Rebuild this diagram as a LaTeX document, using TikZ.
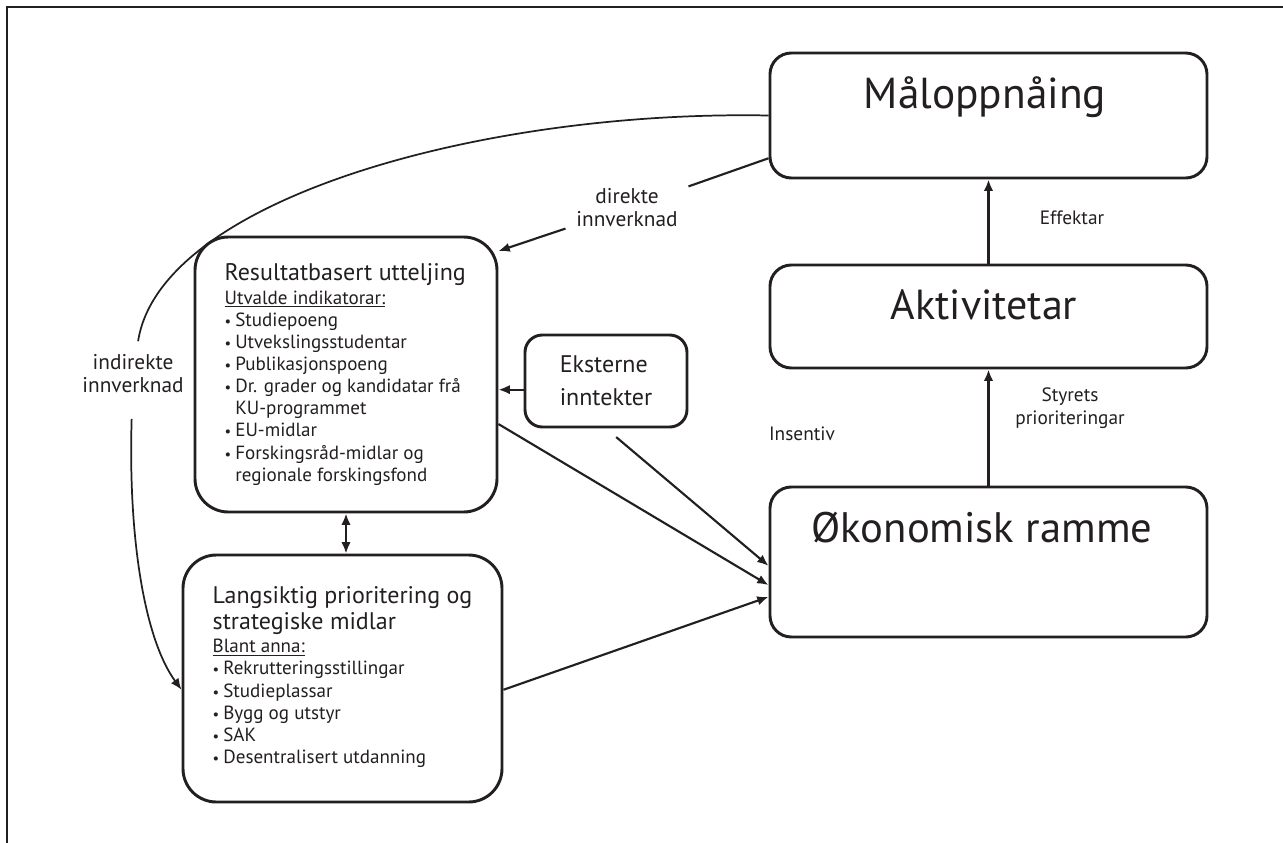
\documentclass[tikz,border=0pt]{standalone}
\usepackage{fontspec}
\setmainfont{PT Sans}
\usetikzlibrary{arrows.meta}
\definecolor{ink}{HTML}{231F20}
\newcommand{\bul}{\makebox[8pt][l]{\fontsize{11}{11}\selectfont\textbullet}}
\newcommand{\hng}{\hspace*{8pt}}
\newcommand{\ttl}[1]{{\fontsize{18}{19.5}\selectfont #1}}

\begin{document}
\begin{tikzpicture}
[x=0.75pt,y=-0.75pt,
 box/.style={draw=ink,line width=2.2pt,rounded corners=16pt,text=ink},
 listbox/.style={box,rounded corners=25pt,align=left,font=\fontsize{14.3}{16.6}\selectfont},
 big/.style={text=ink,anchor=base},
 lbl/.style={text=ink,align=center,font=\fontsize{14.5}{17.2}\selectfont},
 arr/.style={draw=ink,line width=1.6pt,-{Latex[length=8.5pt,width=7pt]}},
 curve/.style={draw=ink,line width=1.3pt}]
\useasboundingbox (0,0) rectangle (1283,843);
\draw[ink,line width=2.2pt] (1283,7) -- (7,7) -- (7,843);
% right column
\node[box,minimum width=327.75pt,minimum height=93.75pt] (mal) at (988.5,115.5) {};
\node[box,minimum width=327.75pt,minimum height=77.25pt] (akt) at (988.5,316.5) {};
\node[box,minimum width=327.75pt,minimum height=112.5pt] (ok) at (988.5,562) {};
\node[big,font=\fontsize{32.5}{38}\selectfont] (maltxt) at (985,108) {Måloppnåing};
\node[big,font=\fontsize{31.5}{36}\selectfont] (akttxt) at (984,319) {Aktivitetar};
\node[big,font=\fontsize{32}{36}\selectfont] (oktxt) at (982,542) {Økonomisk ramme};
% left column
\node[listbox,minimum width=226.5pt,minimum height=206.25pt] (res) at (346,374.5) {%
\ttl{Resultatbasert utteljing}\\[1pt]
\underline{Utvalde indikatorar:}\\
\bul Studiepoeng\\
\bul Utvekslingsstudentar\\
\bul Publikasjonspoeng\\
\bul Dr. grader og kandidatar frå\\
\hng KU-programmet\\
\bul EU-midlar\\
\bul Forskingsråd-midlar og\\
\hng regionale forskingsfond\hspace*{30pt}};
\node[listbox,minimum width=239.25pt,minimum height=185.25pt] (lang) at (342.5,678.5) {%
\ttl{Langsiktig prioritering og}\\[3pt]
\ttl{strategiske midlar}\\[1pt]
\underline{Blant anna:}\\
\bul Rekrutteringsstillingar\\
\bul Studieplassar\\
\bul Bygg og utstyr\\
\bul SAK\\
\bul Desentralisert utdanning\\[-11pt]};
\node[box,rounded corners=13pt,align=left,minimum width=121.5pt,minimum height=69pt,
 font=\fontsize{18}{24.75}\selectfont] (eks) at (606,381) {Eksterne\\inntekter};
% labels
\node[lbl] (eff) at (1072,218) {Effektar};
\node[lbl] (sty) at (1070,408) {Styrets\\prioriteringar};
\node[lbl] (ins) at (802,434) {Insentiv};
\node[lbl,font=\fontsize{16}{17.3}\selectfont,inner sep=8pt] (dir) at (627,208) {direkte\\innverknad};
\node[lbl,font=\fontsize{16}{17.3}\selectfont,inner xsep=4pt,inner ysep=10pt] (ind) at (133,374) {indirekte\\innverknad};
% connectors
\draw[arr] (akt) -- (mal);
\draw[arr] (ok) -- (akt);
\draw[arr] (eks.186) -- (eks.186 -| res.east);
\draw[arr] (res.-18) -- (ok.186);
\draw[arr,shorten <=10pt] (eks.south) -- (ok.181);
\draw[arr] (lang.-4) -- (ok.189);
\draw[arr,{Latex[length=8.5pt,width=7pt]}-{Latex[length=8.5pt,width=7pt]}] (res.south) -- (res.south |- lang.north);
\draw[arr] (mal.191) -- (dir) -- (res.39);
\draw[curve] (mal.west) .. controls (480,110) and (160,200) .. (ind);
\draw[curve,-{Latex[length=8.5pt,width=7pt]},shorten <=9pt] (ind) .. controls (128,540) and (145,640) .. (lang.184);
\end{tikzpicture}
\end{document}
